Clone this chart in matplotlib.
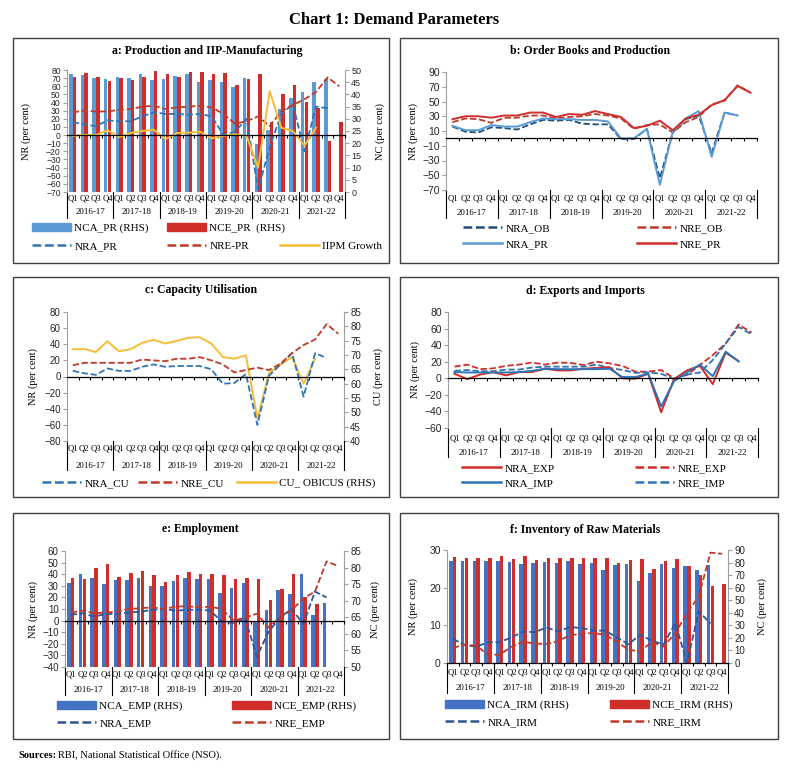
import numpy as np
import matplotlib.pyplot as plt
from matplotlib.patches import Patch, Rectangle
from matplotlib.lines import Line2D
from matplotlib.transforms import blended_transform_factory

nan = np.nan
quarters = ['Q1', 'Q2', 'Q3', 'Q4'] * 6
years = ['2016-17', '2017-18', '2018-19', '2019-20', '2020-21', '2021-22']

# a: Production and IIP-Manufacturing
nca_pr = [48.3, 48.0, 46.7, 46.3, 47.0, 46.7, 48.3, 45.7, 46.3, 47.7, 48.3, 45.0,
          45.7, 45.0, 43.0, 46.7, 19.5, 25.5, 34.0, 38.5, 41.0, 45.0, 46.5, nan]
nce_pr = [47.3, 48.7, 47.0, 45.3, 46.7, 45.7, 47.3, 49.7, 48.3, 47.0, 49.3, 49.3,
          48.3, 48.7, 44.0, 46.3, 48.5, 28.5, 40.0, 44.0, 37.0, 34.5, 21.0, 28.5]
nra_pr = [16, 13, 11, 18, 17, 17, 23, 28, 26, 26, 25, 26,
          23, 0, 4, 20, -67, -15, 26, 38, -20, 35, 33, nan]
nre_pr = [28, 30, 29, 29, 31, 32, 35, 36, 32, 34, 35, 36,
          34, 26, 14, 17, 23, 11, 29, 37, 44, 53, 71, 60]
iipm = [-1, 0, 0, 6, -2.5, 2.5, 5, 6.5, -5, 2.5, 3, 4,
        -4, -1, 1, -1, -40, 54, 9, 5, -13, 9, nan, nan]

# b: Order Books and Production
nra_ob = [16, 9, 8, 15, 14, 12, 19, 25, 24, 25, 20, 19,
          19, -1, -1, 13, -54, 8, 26, 31, -20, 35, 31, nan]
nre_ob = [22, 27, 26, 21, 28, 28, 31, 31, 27, 29, 30, 33,
          31, 27, 13, 18, 19, 8, 22, 29, 46, 51, 72, 62]
nra_pr_b = [17, 11, 11, 18, 16, 16, 22, 27, 26, 26, 25, 25,
            23, 0, 0, 13, -63, 9, 27, 37, -25, 35, 31, nan]
nre_pr_b = [26, 30, 30, 28, 31, 31, 35, 35, 29, 33, 32, 37,
            33, 29, 14, 17, 24, 11, 27, 32, 45, 52, 71, 62]

# c: Capacity Utilisation
nra_cu = [7, 4, 2, 10, 7, 7, 12, 15, 12, 13, 13, 13,
          9, -9, -8, 3, -60, 1, 15, 29, -25, 29, 23, nan]
nre_cu = [14, 17, 17, 17, 17, 17, 21, 20, 19, 22, 22, 24,
          20, 15, 5, 8, 11, 8, 16, 29, 39, 46, 65, 53]
cu_obicus = [72.0, 72.1, 71.0, 74.8, 71.3, 72.0, 74.2, 75.3, 74.0, 74.9, 76.0, 76.2,
             74.0, 69.3, 68.7, 69.9, 47.8, 63.7, 66.6, 69.3, 60.0, 68.7, nan, nan]

# d: Exports and Imports
nra_exp = [5.5, -1, 4.5, 7.5, 3.5, 7.5, 7.5, 11.5, 9.5, 9.5, 11.5, 12.5,
           13.5, 0, -0.5, 5.5, -41, -1, 9.5, 15, -7, 31, 20.5, nan]
nre_exp = [14, 16.5, 11, 12, 15, 16.5, 19, 16.5, 19, 18.5, 16, 20,
           18, 15, 8, 8, 10, 0, 4, 16, 28, 42, 65, 55]
nra_imp = [7.5, 7, 7, 7, 7, 7.5, 9, 11.5, 11, 11, 11, 11,
           11.5, 1.5, 1.5, 5.5, -34, -3.5, 7, 16.5, 2.5, 32, 20.5, nan]
nre_imp = [9, 10, 8.5, 8.5, 10.5, 10.5, 13, 14, 14, 14, 14, 16.5,
           12.5, 10, 6.5, 7, 5.5, -1, 4.5, 7, 22, 42, 62, 53]

# e: Employment
nca_emp = [75.2, 78.0, 77.0, 74.9, 76.3, 76.3, 77.0, 74.5, 74.5, 75.9, 77.0, 76.6,
           76.6, 72.4, 73.8, 75.2, 63.6, 67.2, 73.1, 72.1, 78.0, 65.8, 69.3, nan]
nce_emp = [77.0, 76.6, 79.8, 81.2, 77.3, 78.4, 79.1, 77.7, 75.6, 77.7, 78.7, 78.0,
           78.0, 77.7, 76.6, 77.0, 76.6, 70.3, 73.4, 78.0, 71.0, 68.9, nan, nan]
nra_emp = [5, 6.3, 3.5, 5.7, 5.7, 7, 7.8, 9.2, 10, 8.6, 9.2, 9.5,
           8.6, -1, -2, 2, -31, -10, 3, 10, -3, 25, 20, nan]
nre_emp = [7, 8.5, 6.3, 7, 7.8, 10, 10.6, 11.5, 10, 12, 12.4, 11.5,
           12, 10, 0, 2.6, 6, -6, 3, 9, 19, 25, 51, 47]

# f: Inventory of Raw Materials
nca_irm = [81.6, 81.0, 81.0, 81.0, 81.0, 80.7, 79.0, 80.0, 80.5, 79.5, 81.0, 79.0,
           80.0, 74.0, 78.0, 79.0, 65.0, 72.0, 79.0, 76.0, 77.0, 74.0, 78.0, nan]
nce_irm = [84.6, 83.4, 84.0, 84.0, 85.0, 82.8, 85.0, 82.0, 83.4, 83.7, 84.0, 83.7,
           84.0, 84.0, 80.0, 82.0, 83.0, 75.0, 81.0, 82.5, 77.0, 70.0, 61.5, 63.0]
nra_irm = [6.4, 4.8, 4.3, 5.5, 5.5, 6.8, 8.3, 8.2, 9.4, 8.4, 9.5, 9.3,
           8.6, 8.6, 6.8, 5.0, 7.5, 5.9, 4.9, 10.6, 0.0, 13.7, 10.5, nan]
nre_irm = [4.0, 4.9, 4.6, 2.2, 2.2, 4.3, 5.6, 5.2, 5.0, 5.8, 7.4, 7.7,
           8.0, 7.5, 5.7, 3.5, 3.1, 5.6, 4.4, 7.9, 13.2, 17.7, 29.3, 29.0]

W, H = 788, 769
plt.rcParams['font.family'] = 'Liberation Sans'
SERIF = 'Liberation Serif'
AXC = '#a0a0a0'
RED = '#cf2e2a'
DRED = '#c0392b'
LBLUE = '#5b9bd5'
MBLUE = '#2e75b6'
NAVY = '#1f4e79'
EBLUE = '#4472c4'
GOLD = '#f5bd38'
DASH = (0, (3.5, 1.5))

fig = plt.figure(figsize=(W / 100, H / 100), dpi=100)
x = np.arange(24)


def px_axes(box):
    l, r, t, b = box
    return fig.add_axes([l / W, 1 - b / H, (r - l) / W, (b - t) / H])


def setup(ax, box, ylim, yticks, ylabel, lab_off, q_dy, y_dy, s_dy, fs=6.5):
    l, r, t, b = box
    hpx = b - t
    ax.set_xlim(-0.5, 23.5)
    ax.set_ylim(*ylim)
    ax.set_yticks(yticks)
    ax.spines['top'].set_visible(False)
    ax.spines['right'].set_visible(False)
    ax.spines['left'].set_color(AXC)
    ax.spines['bottom'].set_position(('data', 0))
    ax.spines['bottom'].set_color('black')
    ax.spines['bottom'].set_linewidth(0.9)
    ax.set_xticks(np.arange(-0.5, 24, 1))
    ax.set_xticklabels([])
    ax.tick_params(axis='x', direction='out', length=2.5, width=0.8, color='black')
    ax.tick_params(axis='y', direction='out', length=3, width=0.8, color=AXC,
                   labelsize=fs, labelcolor='#262626', pad=1.5)
    ax.set_ylabel(ylabel, family=SERIF, size=7.5)
    ax.yaxis.set_label_coords(-lab_off / (r - l), 0.5)
    tr = blended_transform_factory(ax.transData, ax.transAxes)
    for i, q in enumerate(quarters):
        ax.text(i, -q_dy / hpx, q, transform=tr, ha='center', va='center',
                family=SERIF, size=6.2)
    for k, yr in enumerate(years):
        ax.text(4 * k + 1.5, -y_dy / hpx, yr, transform=tr, ha='center',
                va='center', family=SERIF, size=6.4)
    for xb in np.arange(-0.5, 24, 4):
        ax.plot([xb, xb], [0, -s_dy / hpx], transform=tr, color='black',
                lw=0.8, clip_on=False)


def right_axis(ax, box, ylim, yticks, ylabel, lab_off, fs=6.5):
    l, r, t, b = box
    ax2 = ax.twinx()
    ax2.set_ylim(*ylim)
    ax2.set_yticks(yticks)
    for s in ['top', 'bottom', 'left']:
        ax2.spines[s].set_visible(False)
    ax2.spines['right'].set_color(AXC)
    ax2.tick_params(axis='y', direction='out', length=3, width=0.8, color=AXC,
                    labelsize=fs, labelcolor='#262626', pad=1.5)
    ax2.set_ylabel(ylabel, family=SERIF, size=7.5)
    ax2.yaxis.set_label_coords(1 + lab_off / (r - l), 0.5)
    ax.set_zorder(ax2.get_zorder() + 1)
    ax.patch.set_visible(False)
    return ax2


def leg(handle, label, px, py):
    fig.legend([handle], [label], loc='center left',
               bbox_to_anchor=(px / W, 1 - py / H), frameon=False,
               prop={'family': SERIF, 'size': 8}, handlelength=3.5,
               handletextpad=0.3, borderpad=0, borderaxespad=0)


def dline(c):
    return Line2D([], [], color=c, ls=DASH, lw=1.8)


def sline(c):
    return Line2D([], [], color=c, lw=1.8)


def panel(box, title, tx, ty):
    x0, y0, x1, y1 = box
    fig.add_artist(Rectangle((x0 / W, 1 - y1 / H), (x1 - x0) / W, (y1 - y0) / H,
                             transform=fig.transFigure, fill=False, lw=1.0,
                             ec='#404040'))
    fig.text(tx / W, 1 - ty / H, title, ha='center', va='center', family=SERIF,
             weight='bold', size=8.5)


fig.text(394 / W, 1 - 20 / H, 'Chart 1: Demand Parameters', ha='center',
         va='center', family=SERIF, weight='bold', size=12)

# ---- a
panel((13, 38, 389, 263), 'a: Production and IIP-Manufacturing', 207, 51)
boxa = (67, 345, 70, 192)
ax = px_axes(boxa)
ax2 = right_axis(ax, boxa, (0, 50), range(0, 51, 5), 'NC (per cent)', 30)
ax2.bar(x - 0.16, nca_pr, width=0.3, color=LBLUE)
ax2.bar(x + 0.16, nce_pr, width=0.3, color=RED)
ax.plot(x, nra_pr, color=MBLUE, ls=DASH, lw=1.3)
ax.plot(x, nre_pr, color=DRED, ls=DASH, lw=1.3)
ax.plot(x, iipm, color=GOLD, lw=1.4)
setup(ax, boxa, (-70, 80), range(-70, 81, 10), 'NR (per cent)', 36, 7, 20, 26, fs=6.2)
leg(Patch(color=LBLUE), 'NCA_PR (RHS)', 32, 228)
leg(Patch(color=RED), 'NCE_PR  (RHS)', 167, 228)
leg(dline(MBLUE), 'NRA_PR', 32, 246)
leg(dline(DRED), 'NRE-PR', 167, 246)
leg(sline(GOLD), 'IIPM Growth', 280, 246)

# ---- b
panel((400, 38, 778, 263), 'b: Order Books and Production', 590, 51)
boxb = (446, 757, 72, 190)
ax = px_axes(boxb)
ax.plot(x, nra_ob, color=NAVY, ls=DASH, lw=1.3)
ax.plot(x, nre_ob, color=DRED, ls=DASH, lw=1.3)
ax.plot(x, nra_pr_b, color=LBLUE, lw=1.4)
ax.plot(x, nre_pr_b, color=RED, lw=1.4)
setup(ax, boxb, (-70, 90), range(-70, 91, 20), 'NR (per cent)', 28, 8, 23, 28, fs=7.5)
leg(dline(NAVY), 'NRA_OB', 463, 228)
leg(dline(DRED), 'NRE_OB', 637, 228)
leg(sline(LBLUE), 'NRA_PR', 463, 244)
leg(sline(RED), 'NRE_PR', 637, 244)

# ---- c
panel((13, 277, 389, 497), 'c: Capacity Utilisation', 201, 290)
boxc = (67, 344, 312, 441)
ax = px_axes(boxc)
ax2 = right_axis(ax, boxc, (40, 85), range(40, 86, 5), 'CU (per cent)', 29, fs=7)
ax2.plot(x, cu_obicus, color=GOLD, lw=1.4)
ax.plot(x, nra_cu, color=MBLUE, ls=DASH, lw=1.3)
ax.plot(x, nre_cu, color=DRED, ls=DASH, lw=1.3)
setup(ax, boxc, (-80, 80), range(-80, 81, 20), 'NR (per cent)', 29, 7, 25, 29, fs=7)
leg(dline(MBLUE), 'NRA_CU', 42, 483)
leg(dline(DRED), 'NRE_CU', 138, 483)
leg(sline(GOLD), 'CU_ OBICUS (RHS)', 237, 483)

# ---- d
panel((400, 277, 778, 497), 'd: Exports and Imports', 585, 291)
boxd = (448, 758, 312, 428)
ax = px_axes(boxd)
ax.plot(x, nre_exp, color=RED, ls=DASH, lw=1.3)
ax.plot(x, nre_imp, color=MBLUE, ls=DASH, lw=1.3)
ax.plot(x, nra_exp, color=RED, lw=1.4)
ax.plot(x, nra_imp, color=MBLUE, lw=1.4)
setup(ax, boxd, (-60, 80), range(-60, 81, 20), 'NR (per cent)', 28, 10, 25, 29, fs=7.5)
leg(sline(RED), 'NRA_EXP', 462, 468)
leg(dline(RED), 'NRE_EXP', 635, 468)
leg(sline(MBLUE), 'NRA_IMP', 462, 483)
leg(dline(MBLUE), 'NRE_IMP', 635, 483)

# ---- e
panel((13, 513, 389, 739), 'e: Employment', 200, 529)
boxe = (65, 344, 551, 667)
ax = px_axes(boxe)
ax2 = right_axis(ax, boxe, (50, 85), range(50, 86, 5), 'NC (per cent)', 26, fs=7)
ax2.bar(x - 0.16, np.array(nca_emp) - 50, bottom=50, width=0.3, color=EBLUE)
ax2.bar(x + 0.16, np.array(nce_emp) - 50, bottom=50, width=0.3, color=RED)
ax.plot(x, nra_emp, color='#2f5597', ls=DASH, lw=1.3)
ax.plot(x, nre_emp, color=DRED, ls=DASH, lw=1.3)
setup(ax, boxe, (-40, 60), range(-40, 61, 10), 'NR (per cent)', 27, 7, 23, 28, fs=7)
leg(Patch(color=EBLUE), 'NCA_EMP (RHS)', 57, 706)
leg(Patch(color=RED), 'NCE_EMP (RHS)', 232, 706)
leg(dline('#2f5597'), 'NRA_EMP', 57, 723)
leg(dline(DRED), 'NRE_EMP', 232, 723)

# ---- f
panel((400, 513, 778, 739), 'f: Inventory of Raw Materials', 585, 530)
boxf = (447, 728, 550, 663)
ax = px_axes(boxf)
ax2 = right_axis(ax, boxf, (0, 90), range(0, 91, 10), 'NC (per cent)', 29, fs=7)
ax2.bar(x - 0.16, nca_irm, width=0.3, color=EBLUE)
ax2.bar(x + 0.16, nce_irm, width=0.3, color=RED)
ax.plot(x, nra_irm, color='#2f5597', ls=DASH, lw=1.3)
ax.plot(x, nre_irm, color=DRED, ls=DASH, lw=1.3)
setup(ax, boxf, (0, 30), range(0, 31, 10), 'NR (per cent)', 29, 10, 25, 30, fs=7.5)
leg(Patch(color=EBLUE), 'NCA_IRM (RHS)', 445, 705)
leg(Patch(color=RED), 'NCE_IRM (RHS)', 610, 705)
leg(dline('#2f5597'), 'NRA_IRM', 445, 722)
leg(dline(DRED), 'NRE_IRM', 610, 722)

fig.text(18 / W, 1 - 755 / H, 'Sources:', ha='left', va='center', family=SERIF,
         weight='bold', size=7.5)
fig.text(58 / W, 1 - 755 / H, 'RBI, National Statistical Office (NSO).', ha='left',
         va='center', family=SERIF, size=7.5)

fig.savefig('out.png', dpi=100)
